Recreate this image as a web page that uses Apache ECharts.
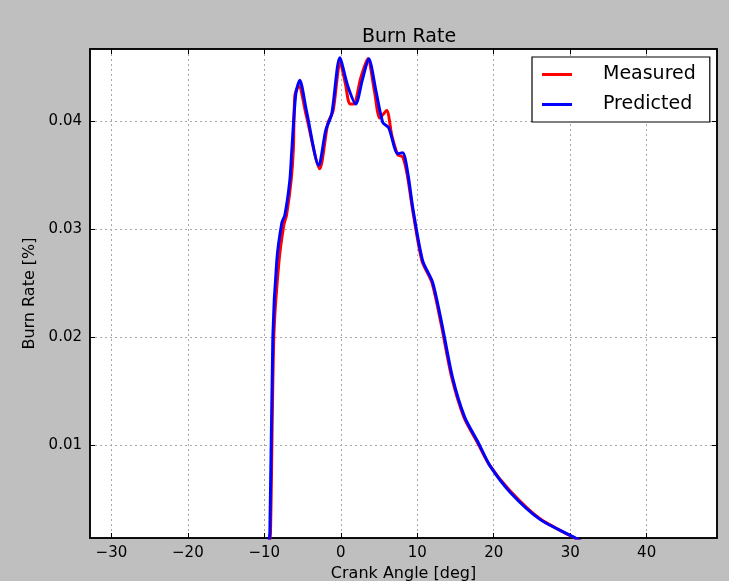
<!DOCTYPE html>
<html>
<head>
<meta charset="utf-8">
<script src="https://cdn.jsdelivr.net/npm/echarts@6/dist/echarts.min.js"></script>
<style>
html,body{margin:0;padding:0;background:#bfbfbf;}
#chart{width:729px;height:581px;}
</style>
</head>
<body>
<div id="chart"></div>
<script>
// ---- data ----
const measuredX = [-9.5, -9.2, -8.76, -8.1, -7.45, -7.1, -6.5, -6.2, -6.0, -5.49, -4.5, -2.75, -1.7, -1.0, -0.1, 0.6, 1.18, 1.7, 2.6, 3.53, 4.4, 5.1, 6.0, 6.67, 7.45, 8.1, 8.7, 9.35, 10.6, 11.9, 13.1, 14.5, 16.1, 17.9, 19.4, 22.1, 26.0, 30.3, 33.0];
const measuredY = [0.0, 0.0019, 0.0200, 0.0269, 0.0304, 0.0313, 0.0345, 0.0375, 0.0424, 0.0433, 0.0405, 0.0356, 0.0398, 0.0410, 0.0455, 0.0435, 0.0416, 0.0416, 0.0440, 0.0458, 0.0428, 0.0403, 0.0410, 0.0387, 0.0369, 0.0367, 0.0350, 0.0320, 0.0271, 0.0251, 0.0213, 0.0163, 0.0126, 0.0102, 0.0082, 0.0058, 0.0032, 0.0015, 0.0005];
const predictedX = [-9.6, -9.28, -8.89, -8.37, -7.71, -7.32, -6.67, -6.41, -5.88, -5.36, -4.5, -2.88, -1.96, -1.18, -0.13, 0.9, 1.96, 2.8, 3.66, 4.6, 5.49, 6.27, 7.45, 8.1, 8.76, 9.41, 10.7, 12.0, 13.2, 14.6, 16.2, 18.0, 19.5, 22.2, 26.1, 30.4, 33.0];
const predictedY = [0.0, 0.0019, 0.0200, 0.0271, 0.0306, 0.0313, 0.0345, 0.0373, 0.0426, 0.0438, 0.0410, 0.0359, 0.0392, 0.0407, 0.0459, 0.0433, 0.0416, 0.0438, 0.0458, 0.0428, 0.0399, 0.0394, 0.0370, 0.0371, 0.0352, 0.0320, 0.0271, 0.0251, 0.0213, 0.0163, 0.0126, 0.0102, 0.0081, 0.0056, 0.0031, 0.0015, 0.0005];
const xTicks = [-30, -20, -10, 0, 10, 20, 30, 40];
const yTicks = [0.01, 0.02, 0.03, 0.04];
const seriesNames = ['Measured', 'Predicted'];
const titleText = 'Burn Rate';
const xName = 'Crank Angle [deg]';
const yName = 'Burn Rate [%]';

const pairs = (xs, ys) => xs.map((x, i) => [x, ys[i]]);
const FONT = 'DejaVu Sans';
const xMin = -32.8, xMax = 49.2, yMin = 0.0014, yMax = 0.0467;

const chart = echarts.init(document.getElementById('chart'), null, {renderer: 'canvas'});
const baseX = {
  type: 'value', min: xMin, max: xMax,
  axisLine: {show: true, onZero: false, lineStyle: {color: '#000', width: 1.5}},
  axisTick: {show: true, inside: true, length: 5, customValues: xTicks, lineStyle: {color: '#000'}},
  axisLabel: {show: true, customValues: xTicks, formatter: v => String(v).replace('-', '\u2212'),
    fontFamily: FONT, fontSize: 15, color: '#000', margin: 8},
  splitLine: {show: true, lineStyle: {color: '#a8a8a8', type: [2, 3], width: 1}}
};
const baseY = {
  type: 'value', min: yMin, max: yMax,
  axisLine: {show: true, onZero: false, lineStyle: {color: '#000', width: 1.5}},
  axisTick: {show: true, inside: true, length: 5, customValues: yTicks, lineStyle: {color: '#000'}},
  axisLabel: {show: true, customValues: yTicks, formatter: v => String(v),
    fontFamily: FONT, fontSize: 15, color: '#000', margin: 8},
  splitLine: {show: true, lineStyle: {color: '#a8a8a8', type: [2, 3], width: 1}}
};
chart.setOption({
  backgroundColor: '#bfbfbf',
  animation: false,
  title: {text: titleText, left: 404, top: 23, textAlign: 'center',
    textStyle: {fontFamily: FONT, fontSize: 19, fontWeight: 'normal', color: '#000'}},
  grid: {left: 90, top: 49, right: 12, bottom: 43, outerBoundsMode: 'none', containLabel: false,
    show: true, backgroundColor: '#fff', borderColor: '#000', borderWidth: 1.5},
  legend: {
    orient: 'vertical', left: 532, top: 57,
    data: seriesNames,
    icon: 'rect', itemWidth: 30, itemHeight: 3, itemGap: 11,
    padding: [8, 14, 8, 10],
    backgroundColor: '#fff', borderColor: '#000', borderWidth: 1.2, borderRadius: 0,
    textStyle: {fontFamily: FONT, fontSize: 19, color: '#000', padding: [0, 0, 0, 26]}
  },
  xAxis: [
    Object.assign({}, baseX, {position: 'bottom', name: xName, nameLocation: 'middle', nameGap: 24,
      nameTextStyle: {fontFamily: FONT, fontSize: 16, color: '#000'}}),
    Object.assign({}, baseX, {position: 'top', axisLabel: {show: false}, splitLine: {show: false}})
  ],
  yAxis: [
    Object.assign({}, baseY, {position: 'left', name: yName, nameLocation: 'middle', nameGap: 44,
      nameTextStyle: {fontFamily: FONT, fontSize: 16, color: '#000'}}),
    Object.assign({}, baseY, {position: 'right', axisLabel: {show: false}, splitLine: {show: false}})
  ],
  series: [
    {name: seriesNames[0], type: 'line', data: pairs(measuredX, measuredY), showSymbol: false, smooth: 0.25,
      clip: true, color: '#ff0000', lineStyle: {color: '#ff0000', width: 3}, z: 2},
    {name: seriesNames[1], type: 'line', data: pairs(predictedX, predictedY), showSymbol: false, smooth: 0.25,
      clip: true, color: '#0000ff', lineStyle: {color: '#0000ff', width: 3}, z: 3}
  ]
});
</script>
</body>
</html>
